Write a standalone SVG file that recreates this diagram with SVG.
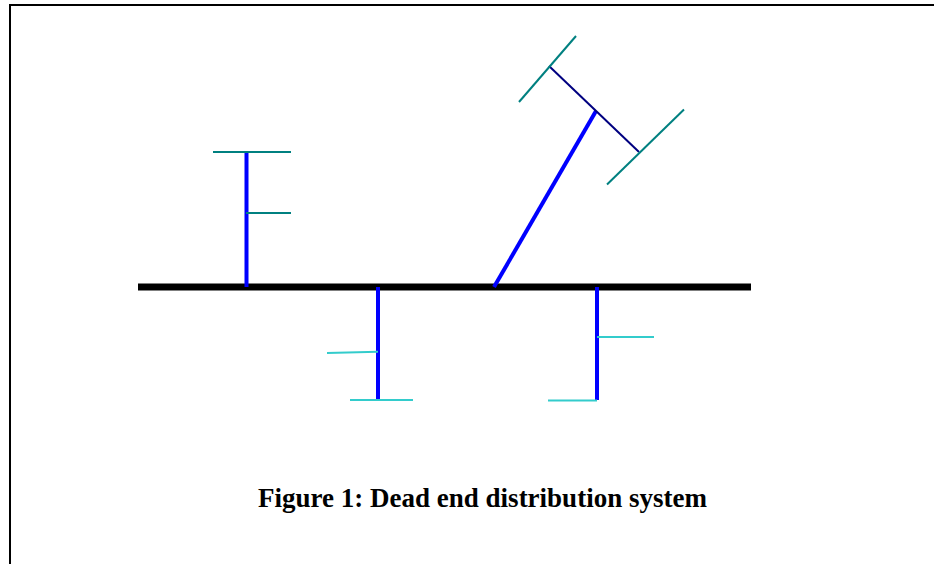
<svg xmlns="http://www.w3.org/2000/svg" width="934" height="564" viewBox="0 0 934 564">
<style>
.bus{stroke:#000;stroke-width:7;fill:none}
.feeder{stroke:#0000FF;stroke-width:4;fill:none}
.teal{stroke:#008080;stroke-width:2;fill:none}
.cyan{stroke:#33CCCC;stroke-width:2;fill:none}
.navy{stroke:#000080;stroke-width:2;fill:none}
.caption{font-family:"Liberation Serif","Times New Roman",serif;font-weight:bold;font-size:27px;fill:#000}
</style>
<rect x="0" y="0" width="934" height="564" fill="#fff"/>
<rect x="10" y="5" width="940" height="580" fill="none" stroke="#000" stroke-width="2"/>
<g id="connectors">
<line class="bus" x1="138" y1="287" x2="751" y2="287"/>
</g>
<g id="branch1">
<line class="feeder" x1="246.5" y1="152" x2="246.5" y2="287"/>
<line class="teal" x1="213" y1="152" x2="291" y2="152"/>
<line class="teal" x1="246" y1="213" x2="291" y2="213"/>
</g>
<g id="branch2">
<line class="feeder" x1="378" y1="287" x2="378" y2="400"/>
<line class="cyan" x1="327" y1="353" x2="378" y2="351.7"/>
<line class="cyan" x1="350" y1="400" x2="413" y2="400"/>
</g>
<g id="branch3">
<line class="feeder" x1="597" y1="287" x2="597" y2="400"/>
<line class="cyan" x1="597" y1="337" x2="654" y2="337"/>
<line class="cyan" x1="548" y1="400.5" x2="597" y2="400.5"/>
</g>
<g id="branch4">
<line class="feeder" x1="494" y1="287" x2="596" y2="111" stroke-width="5"/>
<line class="navy" x1="549" y1="66" x2="639" y2="152"/>
<line class="teal" x1="519" y1="102" x2="576" y2="36"/>
<line class="teal" x1="607" y1="184.5" x2="684" y2="109.5"/>
</g>
<g id="caption">
<text class="caption" x="482.5" y="507" text-anchor="middle">Figure 1: Dead end distribution system</text>
</g>
</svg>
